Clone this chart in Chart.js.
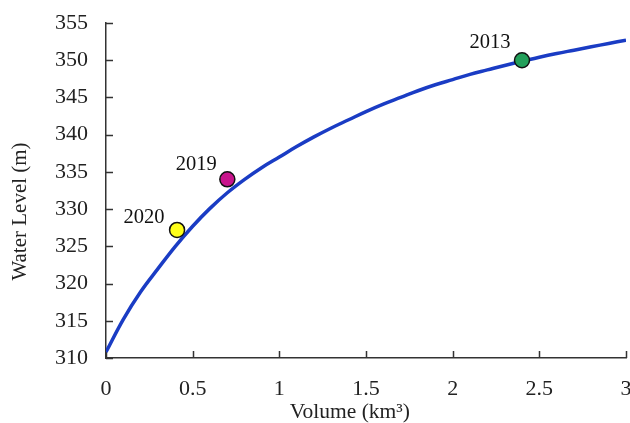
<!DOCTYPE html>
<html>
<head>
<meta charset="utf-8">
<script src="https://cdn.jsdelivr.net/npm/chart.js@4"></script>
<style>
  html, body { margin: 0; padding: 0; background: #fff; overflow: hidden; }
  #wrap { position: absolute; left: 0; top: 0; width: 640px; height: 423px; }
</style>
</head>
<body>
<div id="wrap"><canvas id="c" width="640" height="423"></canvas></div>
<script>
// Rating curve
const curveVolume = [0, 0.1, 0.2, 0.3, 0.4, 0.5, 0.6, 0.7, 0.8, 0.9, 1.0, 1.1, 1.2, 1.3, 1.4, 1.5,
  1.6, 1.7, 1.8, 1.9, 2.0, 2.1, 2.2, 2.3, 2.4, 2.5, 2.6, 2.7, 2.8, 2.9, 3.0];
const curveLevel = [310.8, 315.2, 318.9, 322.0, 325.0, 327.7, 330.1, 332.2, 334.0, 335.6, 337.0,
  338.4, 339.7, 340.9, 342.0, 343.1, 344.1, 345.0, 345.9, 346.7, 347.4, 348.1, 348.7, 349.3,
  349.85, 350.4, 350.9, 351.35, 351.8, 352.25, 352.7];

// Observed points
const obsYears = ['2020', '2019', '2013'];
const obsVolume = [0.41, 0.70, 2.40];
const obsLevel = [327.2, 334.0, 350.0];
const obsColors = ['#ffff1a', '#c8148c', '#23a05a'];

// Axis ticks
const xTicks = [0, 0.5, 1, 1.5, 2, 2.5, 3];
const yTicks = [310, 315, 320, 325, 330, 335, 340, 345, 350, 355];

const FONT = "'Liberation Serif', 'Times New Roman', serif";

const innerTicks = {
  id: 'innerTicks',
  beforeDatasetsDraw(chart) {
    const ctx = chart.ctx;
    const xs = chart.scales.x, ys = chart.scales.y;
    const area = chart.chartArea;
    ctx.save();
    ctx.strokeStyle = '#333';
    ctx.lineWidth = 1.5;
    ctx.beginPath();
    xs.ticks.forEach((t, i) => {
      const px = Math.round(xs.getPixelForTick(i)) + 0.5;
      ctx.moveTo(px, area.bottom);
      ctx.lineTo(px, area.bottom - 7);
    });
    ys.ticks.forEach((t, i) => {
      const py = Math.round(ys.getPixelForTick(i)) + 0.5;
      ctx.moveTo(area.left, py);
      ctx.lineTo(area.left + 7, py);
    });
    ctx.stroke();
    ctx.restore();
  }
};

const pointLabels = {
  id: 'pointLabels',
  afterDatasetsDraw(chart) {
    const meta = chart.getDatasetMeta(1);
    const ctx = chart.ctx;
    ctx.save();
    ctx.font = '20.5px ' + FONT;
    ctx.fillStyle = '#111';
    ctx.textAlign = 'center';
    ctx.textBaseline = 'middle';
    const off = [[-33, -12], [-31, -15], [-32, -18]];
    meta.data.forEach((el, i) => {
      ctx.fillText(obsYears[i], el.x + off[i][0], el.y + off[i][1]);
    });
    ctx.restore();
  }
};

new Chart(document.getElementById('c'), {
  type: 'scatter',
  data: {
    datasets: [
      {
        label: 'Curve',
        type: 'line',
        data: curveVolume.map((v, i) => ({ x: v, y: curveLevel[i] })),
        borderColor: '#1a3cc4',
        borderWidth: 3.5,
        pointRadius: 0,
        fill: false,
        tension: 0.4,
        order: 2
      },
      {
        label: 'Observed',
        data: obsVolume.map((v, i) => ({ x: v, y: obsLevel[i] })),
        backgroundColor: obsColors,
        borderColor: '#111',
        borderWidth: 1.5,
        pointRadius: 7.5,
        order: 1
      }
    ]
  },
  options: {
    responsive: false,
    animation: false,
    layout: { padding: { left: 6, right: 14, top: 23, bottom: 0 } },
    plugins: { legend: { display: false }, tooltip: { enabled: false } },
    scales: {
      x: {
        type: 'linear',
        min: 0, max: 3,
        afterBuildTicks: (s) => { s.ticks = xTicks.map(v => ({ value: v })); },
        afterFit: (s) => { s.height = 65; s.paddingLeft = 0; s.paddingRight = 0; },
        grid: { display: false, drawTicks: false },
        border: { display: true, color: '#333', width: 1.5 },
        ticks: { color: '#222', padding: 18, font: { family: FONT, size: 22 }, maxRotation: 0, autoSkip: false,
                 callback: (v) => String(v) },
        title: { display: true, text: 'Volume (km³)\u2003\u2002', color: '#222', padding: { top: 0, bottom: -2 }, font: { family: FONT, size: 21.5 } }
      },
      y: {
        type: 'linear',
        min: 310, max: 355,
        afterBuildTicks: (s) => { s.ticks = yTicks.map(v => ({ value: v })); },
        afterFit: (s) => { s.width = 100; s.paddingTop = 0; s.paddingBottom = 0; },
        grid: { display: false, drawTicks: false },
        border: { display: true, color: '#333', width: 1.5 },
        ticks: { color: '#222', padding: 18, font: { family: FONT, size: 22 }, autoSkip: false },
        title: { display: true, text: 'Water Level (m)\u2003\u2003', color: '#222', padding: { top: 2, bottom: 8 }, font: { family: FONT, size: 21 } }
      }
    }
  },
  plugins: [innerTicks, pointLabels]
});
</script>
</body>
</html>
